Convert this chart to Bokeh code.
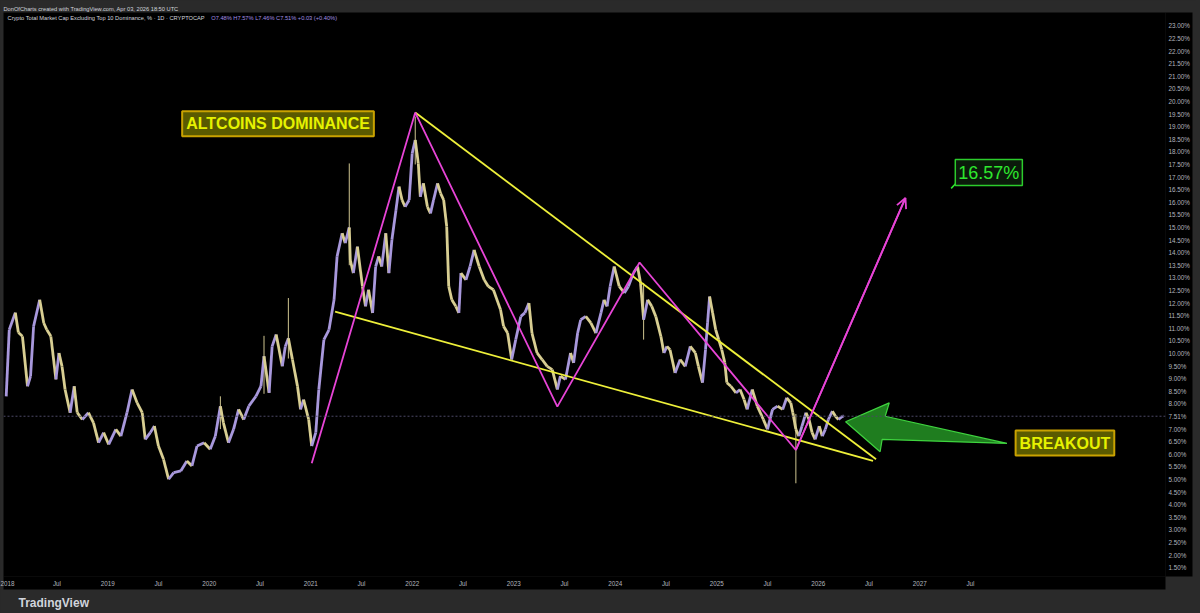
from bokeh.plotting import figure
from bokeh.models import (FixedTicker, PrintfTickFormatter, Range1d, Label, Span,
                          Arrow, OpenHead, Title, GlobalInlineStyleSheet)
from bokeh.embed import file_html
from bokeh.resources import INLINE

# ---------------- data (decimal year, dominance %) ----------------
t = [2018.00, 2018.03, 2018.09, 2018.12, 2018.16, 2018.21, 2018.24, 2018.27, 2018.33, 2018.37,
     2018.40, 2018.44, 2018.49, 2018.52, 2018.55, 2018.58, 2018.63, 2018.67, 2018.70, 2018.75,
     2018.81, 2018.86, 2018.91, 2018.96, 2019.01, 2019.08, 2019.13, 2019.19, 2019.24, 2019.29,
     2019.34, 2019.37, 2019.42, 2019.46, 2019.50, 2019.55, 2019.60, 2019.65, 2019.72, 2019.78,
     2019.83, 2019.88, 2019.95, 2020.01, 2020.06, 2020.11, 2020.14, 2020.19, 2020.24, 2020.29,
     2020.34, 2020.39, 2020.46, 2020.51, 2020.54, 2020.59, 2020.62, 2020.66, 2020.72, 2020.75,
     2020.78, 2020.82, 2020.87, 2020.90, 2020.93, 2020.98, 2021.01, 2021.05, 2021.08, 2021.13,
     2021.18, 2021.23, 2021.26, 2021.31, 2021.34, 2021.38, 2021.39, 2021.42, 2021.46, 2021.51,
     2021.54, 2021.57, 2021.61, 2021.64, 2021.67, 2021.70, 2021.74, 2021.77, 2021.80, 2021.84,
     2021.87, 2021.90, 2021.93, 2021.97, 2022.00, 2022.03, 2022.06, 2022.08, 2022.11, 2022.15,
     2022.18, 2022.21, 2022.25, 2022.28, 2022.31, 2022.34, 2022.36, 2022.39, 2022.43, 2022.46,
     2022.48, 2022.53, 2022.57, 2022.61, 2022.66, 2022.71, 2022.75, 2022.80, 2022.87, 2022.90,
     2022.94, 2022.98, 2023.02, 2023.07, 2023.11, 2023.15, 2023.18, 2023.23, 2023.28, 2023.33,
     2023.38, 2023.43, 2023.46, 2023.51, 2023.56, 2023.59, 2023.63, 2023.66, 2023.71, 2023.76,
     2023.81, 2023.86, 2023.89, 2023.92, 2023.95, 2023.99, 2024.04, 2024.09, 2024.13, 2024.18,
     2024.22, 2024.25, 2024.28, 2024.32, 2024.36, 2024.40, 2024.45, 2024.48, 2024.51, 2024.54,
     2024.59, 2024.64, 2024.69, 2024.74, 2024.79, 2024.82, 2024.86, 2024.89, 2024.91, 2024.93,
     2024.96, 2024.99, 2025.02, 2025.05, 2025.08, 2025.10, 2025.14, 2025.19, 2025.23, 2025.27,
     2025.30, 2025.35, 2025.40, 2025.46, 2025.50, 2025.55, 2025.60, 2025.65, 2025.69, 2025.73,
     2025.75, 2025.78, 2025.81, 2025.84, 2025.88, 2025.91, 2025.94, 2025.97, 2026.01, 2026.04,
     2026.07, 2026.10, 2026.14, 2026.17, 2026.20, 2026.24, 2026.25]
dominance = [8.30, 10.94, 11.62, 10.83, 10.68, 8.70, 9.10, 11.08, 12.13, 11.21,
             10.94, 10.68, 8.97, 10.02, 9.49, 8.57, 7.65, 8.70, 7.65, 7.38,
             7.65, 7.25, 6.46, 6.86, 6.39, 6.99, 6.72, 7.65, 8.57, 8.04,
             7.65, 6.59, 6.86, 7.12, 6.33, 5.80, 5.01, 5.27, 5.34, 5.73,
             5.54, 6.33, 6.46, 6.20, 6.72, 7.91, 7.25, 6.46, 6.99, 7.78,
             7.38, 7.91, 8.30, 8.70, 9.89, 8.44, 10.28, 10.75, 9.49, 10.28,
             10.60, 9.76, 8.70, 7.78, 8.17, 7.38, 6.33, 6.86, 8.57, 10.55,
             10.94, 12.13, 13.85, 14.77, 14.38, 15.00, 13.71, 13.19, 14.24, 12.66,
             11.87, 12.53, 11.61, 13.45, 13.85, 13.45, 14.77, 13.19, 14.51, 15.69,
             16.62, 16.09, 15.82, 16.09, 17.94, 18.47, 17.54, 16.22, 16.75, 15.82,
             15.56, 16.09, 16.75, 16.35, 16.09, 15.03, 12.66, 12.13, 11.87, 11.61,
             13.19, 12.92, 13.45, 14.11, 13.45, 12.92, 12.66, 12.53, 11.74, 11.08,
             10.81, 9.76, 10.55, 11.47, 11.61, 12.00, 10.81, 10.02, 9.76, 9.49,
             9.36, 8.57, 9.10, 8.97, 10.02, 9.63, 10.81, 11.34, 11.47, 11.21,
             10.81, 11.61, 12.13, 11.87, 12.66, 13.45, 12.66, 12.40, 12.66, 13.19,
             13.45, 12.79, 11.34, 12.13, 11.87, 11.47, 10.68, 10.02, 10.28, 10.15,
             9.23, 9.76, 9.49, 10.28, 10.02, 9.49, 8.84, 10.15, 11.21, 12.26,
             11.61, 10.94, 10.55, 10.15, 9.63, 8.84, 8.70, 8.44, 8.57, 8.17,
             7.78, 8.57, 7.91, 7.38, 6.99, 7.78, 7.91, 7.78, 8.24, 8.04,
             7.65, 6.99, 6.72, 7.12, 7.65, 7.38, 6.86, 6.59, 7.12, 6.72,
             6.99, 7.38, 7.71, 7.51, 7.38, 7.51, 7.51]

# wicks (spikes)
wick_t = [2020.11, 2020.54, 2020.78, 2021.38, 2022.03, 2024.28, 2025.78]
wick_lo = [7.00, 8.40, 9.80, 13.50, 17.50, 10.55, 4.85]
wick_hi = [8.30, 10.70, 12.20, 17.54, 19.40, 12.80, 7.60]

last_price = 7.51

# drawn pattern
pink_t = [2021.01, 2022.03, 2023.43, 2024.24, 2025.78, 2026.86]
pink_v = [5.64, 19.56, 7.89, 13.61, 6.17, 16.17]
upper_t = [2022.03, 2026.57]
upper_v = [19.56, 5.80]
lower_t = [2021.24, 2026.54]
lower_v = [11.66, 5.74]
green_arrow_t = [2026.27, 2026.70, 2026.66, 2027.86, 2026.63, 2026.61]
green_arrow_v = [7.29, 8.04, 7.51, 6.43, 6.59, 6.10]

# axis ticks
x_ticks = [2018.0, 2018.5, 2019.0, 2019.5, 2020.0, 2020.5, 2021.0, 2021.5, 2022.0, 2022.5,
           2023.0, 2023.5, 2024.0, 2024.5, 2025.0, 2025.5, 2026.0, 2026.5, 2027.0, 2027.5]
x_labels = ["2018", "Jul", "2019", "Jul", "2020", "Jul", "2021", "Jul", "2022", "Jul",
            "2023", "Jul", "2024", "Jul", "2025", "Jul", "2026", "Jul", "2027", "Jul"]
y_ticks = [1.5, 2.0, 2.5, 3.0, 3.5, 4.0, 4.5, 5.0, 5.5, 6.0, 6.5, 7.0, 7.51, 8.0, 8.5, 9.0,
           9.5, 10.0, 10.5, 11.0, 11.5, 12.0, 12.5, 13.0, 13.5, 14.0, 14.5, 15.0, 15.5,
           16.0, 16.5, 17.0, 17.5, 18.0, 18.5, 19.0, 19.5, 20.0, 20.5, 21.0, 21.5, 22.0,
           22.5, 23.0]

# ---------------- figure ----------------
GRAY = "#2a2a2a"
FONT = "Liberation Sans"

p = figure(width=1196, height=613, output_backend="svg", toolbar_location=None,
           x_range=Range1d(2017.9734, 2029.4217), y_range=Range1d(1.151, 23.529),
           y_axis_location="right",
           background_fill_color="black", border_fill_color=GRAY,
           min_border_left=3, min_border_right=31, min_border_top=12, min_border_bottom=0,
           outline_line_color=None,
           title="DonOfCharts created with TradingView.com, Apr 03, 2026 18:50 UTC")
p.stylesheets = [GlobalInlineStyleSheet(css="body { background: #2a2a2a; }")]

p.title.text_font_size = "5.7px"
p.title.text_color = "#d1d4dc"
p.title.text_font_style = "normal"
p.title.text_font = FONT
p.title.standoff = 1

p.xgrid.visible = False
p.ygrid.visible = False

for ax in (p.xaxis[0], p.yaxis[0]):
    ax.axis_line_color = None
    ax.major_tick_line_color = None
    ax.minor_tick_line_color = None
    ax.major_tick_out = 0
    ax.major_tick_in = 0
    ax.minor_tick_out = 0
    ax.major_label_text_color = "#b2b5be"
    ax.major_label_text_font_size = "6.3px"
    ax.major_label_text_font = FONT
    ax.major_label_standoff = 3
    if "background_fill_color" in ax.properties():
        ax.background_fill_color = "black"

p.xaxis.ticker = FixedTicker(ticks=x_ticks)
p.xaxis.major_label_overrides = {k: lab for k, lab in zip(x_ticks, x_labels)}
p.yaxis.ticker = FixedTicker(ticks=y_ticks)
p.yaxis.formatter = PrintfTickFormatter(format="%.2f%%")

p.add_layout(Title(text="TradingView", text_font_size="12px", text_font_style="bold",
                   text_color="#d1d4dc", text_font=FONT, align="left", offset=15,
                   standoff=8), "below")

# current price line
p.add_layout(Span(location=last_price, dimension="width", line_color="#4d4866",
                  line_dash="2 2", line_width=1))

# ---------------- candles as up/down segments ----------------
x0, x1, y0, y1, cols = [], [], [], [], []
for i in range(1, len(t)):
    x0.append(t[i - 1]); x1.append(t[i]); y0.append(dominance[i - 1]); y1.append(dominance[i])
    cols.append("#a898dc" if dominance[i] >= dominance[i - 1] else "#d8ce92")
p.segment(x0=wick_t, y0=wick_lo, x1=wick_t, y1=wick_hi, line_color="#cfc590", line_width=1)
p.segment(x0=x0, y0=y0, x1=x1, y1=y1, line_color=cols, line_width=2.8)

# ---------------- drawings ----------------
YEL = "#eef03a"
PINK = "#e744d6"
p.line(upper_t, upper_v, line_color=YEL, line_width=1.8)
p.line(lower_t, lower_v, line_color=YEL, line_width=1.8)
p.line(pink_t, pink_v, line_color=PINK, line_width=1.8)
p.add_layout(Arrow(end=OpenHead(size=10, line_color=PINK, line_width=1.8),
                   x_start=pink_t[-2], y_start=pink_v[-2], x_end=pink_t[-1], y_end=pink_v[-1],
                   line_color=PINK, line_width=1.8))

p.patch(green_arrow_t, green_arrow_v, fill_color="#1f7d1f", line_color="#3fd43f", line_width=1.2)

p.line([2027.31, 2027.37], [16.55, 16.80], line_color="#2ee82e", line_width=1.5)

p.add_layout(Label(x=2020.678, y=19.11, text="ALTCOINS DOMINANCE", text_font=FONT,
                   text_font_size="16px", text_font_style="bold", text_color="#e6f200",
                   text_align="center", text_baseline="middle",
                   background_fill_color="#5a5a00", border_line_color="#c9a200",
                   border_line_width=2, padding=4))
p.add_layout(Label(x=2028.431, y=6.445, text="BREAKOUT", text_font=FONT,
                   text_font_size="16px", text_font_style="bold", text_color="#e6f200",
                   text_align="center", text_baseline="middle",
                   background_fill_color="#5a5a00", border_line_color="#c9a200",
                   border_line_width=2, padding=4))
p.add_layout(Label(x=2027.681, y=17.18, text="16.57%", text_font=FONT,
                   text_font_size="18px", text_color="#2ee82e",
                   text_align="center", text_baseline="middle",
                   background_fill_color="#0b1a0b", border_line_color="#2ccc2c",
                   border_line_width=1.5, padding=3))

# header inside pane
p.add_layout(Label(x=2018.013, y=23.3, text="Crypto Total Market Cap Excluding Top 10 Dominance, % · 1D · CRYPTOCAP",
                   text_font=FONT, text_font_size="5.7px", text_color="#d1d4dc",
                   text_baseline="middle"))
p.add_layout(Label(x=2020.02, y=23.3, text="O7.48%  H7.57%  L7.46%  C7.51%  +0.03 (+0.40%)",
                   text_font=FONT, text_font_size="5.7px", text_color="#a08ee0",
                   text_baseline="middle"))

open("out.html", "w").write(file_html(p, INLINE))
